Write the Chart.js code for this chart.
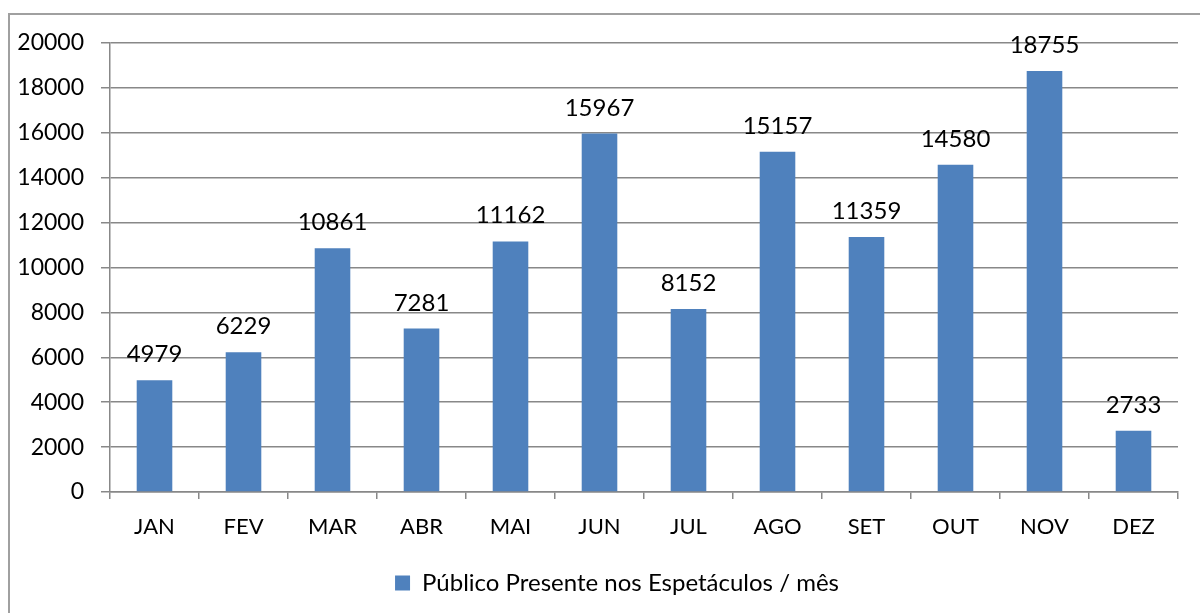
<!DOCTYPE html>
<html>
<head>
<meta charset="utf-8">
<script src="https://cdn.jsdelivr.net/npm/chart.js@4"></script>
<style>
  html, body { margin: 0; padding: 0; background: #fff; overflow: hidden; }
  #wrap { width: 1200px; height: 613px; }
</style>
</head>
<body>
<div id="wrap"><canvas id="myChart" width="1200" height="613"></canvas></div>
<script>
// dados
let meses = ["JAN", "FEV", "MAR", "ABR", "MAI", "JUN", "JUL", "AGO", "SET", "OUT", "NOV", "DEZ"];
let publico = [4979, 6229, 10861, 7281, 11162, 15967, 8152, 15157, 11359, 14580, 18755, 2733];
let serieNome = "Público Presente nos Espetáculos / mês";

let fonte = "Lato, 'Open Sans', sans-serif";
let corBarra = "#4F81BD";
let corGrade = "#888888";

// moldura cinza em volta do grafico
let moldura = {
    id: "moldura",
    beforeDraw(chart) {
        let ctx = chart.ctx;
        ctx.save();
        ctx.fillStyle = "#fff";
        ctx.fillRect(0, 0, chart.width, chart.height);
        ctx.strokeStyle = "#a0a0a0";
        ctx.lineWidth = 2;
        ctx.strokeRect(9, 14, 1400, 800);
        ctx.restore();
    },
    // empurra a legenda um pouco para a direita, como no original
    afterLayout(chart) {
        if (chart.legend) {
            chart.legend.left += 28;
            chart.legend.right += 28;
        }
    },
};

// rotulos de valor em cima das barras
let rotulos = {
    id: "rotulos",
    afterDatasetsDraw(chart) {
        let ctx = chart.ctx;
        ctx.save();
        ctx.font = "24px " + fonte;
        ctx.fillStyle = "#000";
        ctx.textAlign = "center";
        ctx.textBaseline = "alphabetic";
        chart.getDatasetMeta(0).data.forEach((bar, i) => {
            ctx.fillText(String(publico[i]), bar.x, bar.y - 18);
        });
        ctx.restore();
    },
};

let ctx = document.getElementById("myChart").getContext("2d");
new Chart(ctx, {
    type: "bar",
    data: {
        labels: meses,
        datasets: [
            {
                label: serieNome,
                data: publico,
                backgroundColor: corBarra,
                borderWidth: 0,
                categoryPercentage: 1,
                barPercentage: 0.4,
            },
        ],
    },
    options: {
        responsive: false,
        animation: false,
        layout: { padding: { top: 43, right: 22, left: 0, bottom: 8 } },
        plugins: {
            legend: {
                position: "bottom",
                labels: {
                    font: { family: fonte, size: 24 },
                    color: "#000",
                    boxWidth: 15,
                    boxHeight: 15,
                    padding: 8,
                },
            },
            tooltip: { enabled: false },
        },
        scales: {
            y: {
                min: 0,
                max: 20000,
                ticks: {
                    stepSize: 2000,
                    font: { family: fonte, size: 23 },
                    color: "#000",
                    padding: 17,
                    callback: (v) => String(v),
                },
                grid: { color: corGrade, lineWidth: 1.5, tickLength: 9 },
                border: { color: corGrade, width: 1.5 },
                afterFit(scale) { scale.width = 110; },
            },
            x: {
                ticks: {
                    font: { family: fonte, size: 22 },
                    color: "#000",
                    padding: 15,
                },
                grid: {
                    offset: true,
                    drawOnChartArea: false,
                    color: corGrade,
                    lineWidth: 1.5,
                    tickLength: 7,
                },
                border: { color: corGrade, width: 1.5 },
                afterFit(scale) { scale.height = 71; },
            },
        },
    },
    plugins: [moldura, rotulos],
});
</script>
</body>
</html>
